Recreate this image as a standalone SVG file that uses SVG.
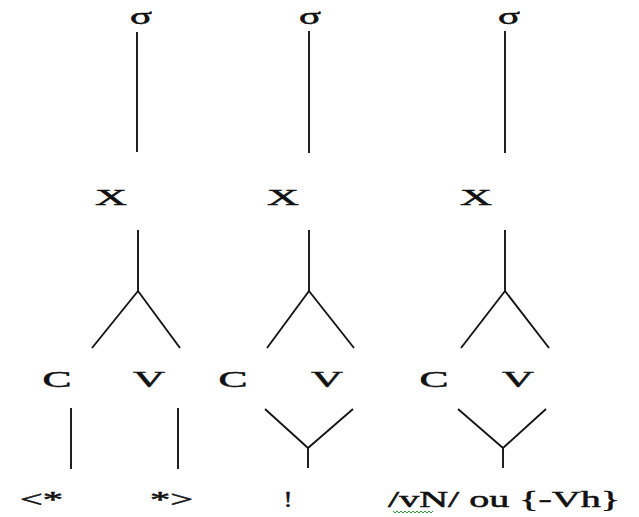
<svg xmlns="http://www.w3.org/2000/svg" width="639" height="517" viewBox="0 0 639 517">
<style>
text{font-family:"Liberation Serif","Times New Roman",serif;font-size:23px;font-weight:normal;fill:#111;stroke:#111;stroke-width:0.5;text-anchor:middle}
.e line{stroke:#151515;stroke-width:1.9;stroke-linecap:butt}
</style>
<rect width="639" height="517" fill="#fff"/>
<g id="edges" class="e">
<line x1="137" y1="32" x2="137" y2="152"/>
<line x1="138" y1="230" x2="138" y2="291"/>
<line x1="138" y1="291" x2="92" y2="348"/>
<line x1="138" y1="291" x2="180" y2="348"/>
<line x1="71" y1="408" x2="71" y2="469"/>
<line x1="178" y1="408" x2="178" y2="469"/>
<line x1="309" y1="31" x2="309" y2="153"/>
<line x1="309" y1="230" x2="309" y2="291"/>
<line x1="309" y1="291" x2="267" y2="348"/>
<line x1="309" y1="291" x2="354" y2="348"/>
<line x1="265" y1="409" x2="308" y2="448"/>
<line x1="353" y1="409" x2="308" y2="448"/>
<line x1="308" y1="448" x2="308" y2="468"/>
<line x1="505" y1="31" x2="505" y2="153"/>
<line x1="505" y1="230" x2="505" y2="291"/>
<line x1="505" y1="291" x2="461" y2="348"/>
<line x1="505" y1="291" x2="549" y2="348"/>
<line x1="458" y1="409" x2="503" y2="448"/>
<line x1="546" y1="409" x2="503" y2="448"/>
<line x1="503" y1="448" x2="503" y2="468"/>
</g>
<g id="sigma1"><text x="141" y="24" textLength="22" lengthAdjust="spacingAndGlyphs">σ</text></g>
<g id="sigma2"><text x="310" y="24" textLength="22" lengthAdjust="spacingAndGlyphs">σ</text></g>
<g id="sigma3"><text x="509" y="24" textLength="22" lengthAdjust="spacingAndGlyphs">σ</text></g>
<g id="x1"><text x="111" y="205" textLength="32" lengthAdjust="spacingAndGlyphs">X</text></g>
<g id="x2"><text x="283" y="205" textLength="32" lengthAdjust="spacingAndGlyphs">X</text></g>
<g id="x3"><text x="476" y="205" textLength="32" lengthAdjust="spacingAndGlyphs">X</text></g>
<g id="c1"><text x="57" y="387" textLength="29" lengthAdjust="spacingAndGlyphs">C</text></g>
<g id="v1"><text x="149" y="387" textLength="32" lengthAdjust="spacingAndGlyphs">V</text></g>
<g id="c2"><text x="233" y="387" textLength="29" lengthAdjust="spacingAndGlyphs">C</text></g>
<g id="v2"><text x="327" y="387" textLength="32" lengthAdjust="spacingAndGlyphs">V</text></g>
<g id="c3"><text x="434" y="387" textLength="29" lengthAdjust="spacingAndGlyphs">C</text></g>
<g id="v3"><text x="518" y="387" textLength="32" lengthAdjust="spacingAndGlyphs">V</text></g>
<g id="seg1"><text x="41.5" y="507" textLength="43" lengthAdjust="spacingAndGlyphs">&lt;*</text></g>
<g id="seg2"><text x="171.5" y="507" textLength="43" lengthAdjust="spacingAndGlyphs">*&gt;</text></g>
<g id="seg3"><text x="288" y="507" textLength="9" lengthAdjust="spacingAndGlyphs">!</text></g>
<g id="seg4"><text x="504" y="507" textLength="232" lengthAdjust="spacingAndGlyphs">/vN/ ou {-Vh}</text>
<path d="M393 511 l2 2 l2 -2 l2 2 l2 -2 l2 2 l2 -2 l2 2 l2 -2 l2 2 l2 -2 l2 2 l2 -2 l2 2 l2 -2 l2 2 l2 -2 l2 2 l2 -2 l2 2 l2 -2" fill="none" stroke="#3a9a3a" stroke-width="1"/></g>
</svg>
